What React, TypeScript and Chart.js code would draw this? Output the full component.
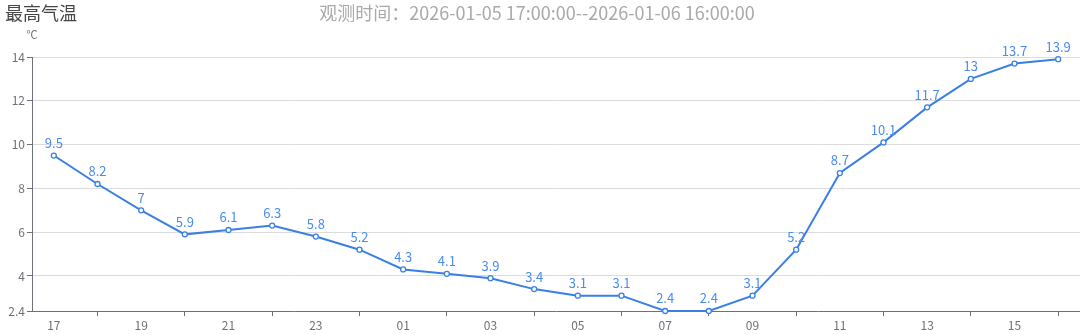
import React, { useEffect, useRef } from "react";
import { Chart, registerables } from "chart.js";

Chart.register(...registerables);

const hours = ["17", "18", "19", "20", "21", "22", "23", "00", "01", "02", "03", "04", "05", "06", "07", "08", "09", "10", "11", "12", "13", "14", "15", "16"];
const maxTemp = [9.5, 8.2, 7, 5.9, 6.1, 6.3, 5.8, 5.2, 4.3, 4.1, 3.9, 3.4, 3.1, 3.1, 2.4, 2.4, 3.1, 5.2, 8.7, 10.1, 11.7, 13, 13.7, 13.9];
const yTicks = [2.4, 4, 6, 8, 10, 12, 14];
const titleText = "最高气温";
const subtitleText = "观测时间：2026-01-05 17:00:00--2026-01-06 16:00:00";
const unitText = "℃";

const FONT = "'Noto Sans CJK SC', 'Noto Sans', sans-serif";
const LINE = "#3a7fe6";
const AXIS = "#6E7079";
const GRID = "#dcdcdc";

const labelPlugin = {
  id: "pointLabels",
  afterDatasetsDraw(chart: any) {
    const ctx = chart.ctx;
    const meta = chart.getDatasetMeta(0);
    const data = chart.data.datasets[0].data;
    ctx.save();
    ctx.font = `13px ${FONT}`;
    ctx.fillStyle = "#4a8cf0";
    ctx.textAlign = "center";
    ctx.textBaseline = "bottom";
    meta.data.forEach((pt: any, i: number) => {
      ctx.fillText(String(data[i]), pt.x, pt.y - 6);
    });
    const ys = chart.scales.y;
    ctx.font = `11px ${FONT}`;
    ctx.fillStyle = AXIS;
    ctx.textAlign = "center";
    ctx.textBaseline = "middle";
    ctx.fillText(unitText, ys.right, 35);
    ctx.restore();
  },
};

export default function App() {
  const ref = useRef<HTMLCanvasElement | null>(null);
  useEffect(() => {
    document.body.style.margin = "0";
    const chart = new Chart(ref.current as HTMLCanvasElement, {
      type: "line",
      data: {
        labels: hours,
        datasets: [
          {
            data: maxTemp,
            borderColor: LINE,
            borderWidth: 2,
            pointRadius: 2.5,
            pointBackgroundColor: "#ffffff",
            pointBorderColor: LINE,
            pointBorderWidth: 1.3,
            tension: 0,
            clip: false as any,
          },
        ],
      },
      options: {
        animation: false,
        responsive: false,
        maintainAspectRatio: false,
        layout: { autoPadding: false, padding: { top: 57, right: 0, left: 0, bottom: 0 } },
        plugins: { legend: { display: false }, tooltip: { enabled: false }, title: { display: false } },
        scales: {
          x: {
            type: "category",
            offset: true,
            afterFit(scale: any) {
              scale.height = 24;
              scale.paddingLeft = 0;
              scale.paddingRight = 0;
            },
            border: { display: true, color: AXIS, width: 1 },
            grid: {
              drawOnChartArea: false,
              drawTicks: true,
              tickLength: 5,
              offset: false,
              tickColor: (c: any) => (c.index % 2 === 1 ? AXIS : "rgba(0,0,0,0)"),
            },
            ticks: {
              autoSkip: false,
              maxRotation: 0,
              padding: 2,
              color: AXIS,
              font: { size: 12, family: FONT },
              callback: (_v: any, i: number) => (i % 2 === 0 ? hours[i] : ""),
            },
          },
          y: {
            min: 2.4,
            max: 14,
            afterFit(scale: any) {
              scale.width = 32;
            },
            afterBuildTicks(scale: any) {
              scale.ticks = yTicks.map((v) => ({ value: v }));
            },
            border: { display: true, color: AXIS, width: 1 },
            grid: {
              color: (c: any) => (c.tick && c.tick.value === 2.4 ? "rgba(0,0,0,0)" : GRID),
              tickColor: AXIS,
              tickLength: 5,
              drawTicks: true,
            },
            ticks: {
              padding: 2,
              color: AXIS,
              font: { size: 12, family: FONT },
              callback: (v: any) => String(v),
            },
          },
        },
      },
      plugins: [labelPlugin],
    });
    return () => chart.destroy();
  }, []);

  return (
    <div style={{ position: "relative", width: 1080, height: 335, background: "#fff", overflow: "hidden" }}>
      <canvas ref={ref} width={1080} height={335} style={{ position: "absolute", left: 0, top: 0, width: 1080, height: 335 }} />
      <div style={{ position: "absolute", left: 5, top: 0, fontFamily: FONT, fontSize: 18, color: "#464646", lineHeight: "24px" }}>{titleText}</div>
      <div style={{ position: "absolute", left: 0, width: 1074, top: 0, textAlign: "center", fontFamily: FONT, fontSize: 18, color: "#aaaaaa", lineHeight: "24px" }}>{subtitleText}</div>
    </div>
  );
}
